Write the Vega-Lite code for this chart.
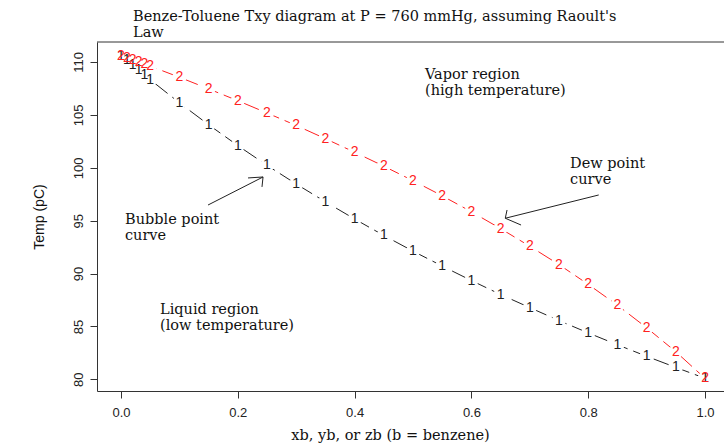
{
  "$schema": "https://vega.github.io/schema/vega-lite/v6.json",
  "width": 627,
  "height": 349,
  "autosize": {"type": "none"},
  "padding": {"left": 97, "top": 42, "right": 0, "bottom": 54},
  "background": "white",
  "config": {
    "view": {"stroke": null},
    "axis": {"grid": false, "tickSize": 7, "tickColor": "#333333", "domainColor": "#333333", "labelColor": "#222222", "titleColor": "#111111", "labelFont": "Liberation Sans", "labelFontSize": 13, "titleFontWeight": "normal"}
  },
  "title": {
    "text": ["Benze-Toluene Txy diagram at P = 760 mmHg, assuming Raoult's", "Law"],
    "anchor": "start",
    "frame": "group",
    "dx": 36,
    "offset": 1,
    "font": "DejaVu Serif",
    "fontSize": 14.5,
    "fontWeight": "normal",
    "color": "#111111",
    "lineHeight": 16
  },
  "datasets": {
    "curves": [
      {"x": 0, "T": 110.6, "c": "1"}, {"x": 0.01, "T": 110.15, "c": "1"}, {"x": 0.02, "T": 109.69, "c": "1"}, {"x": 0.03, "T": 109.24, "c": "1"}, {"x": 0.04, "T": 108.78, "c": "1"}, {"x": 0.05, "T": 108.33, "c": "1"},
      {"x": 0.1, "T": 106.14, "c": "1"}, {"x": 0.15, "T": 104.07, "c": "1"}, {"x": 0.2, "T": 102.1, "c": "1"}, {"x": 0.25, "T": 100.23, "c": "1"}, {"x": 0.3, "T": 98.47, "c": "1"}, {"x": 0.35, "T": 96.78, "c": "1"}, {"x": 0.4, "T": 95.16, "c": "1"}, {"x": 0.45, "T": 93.6, "c": "1"}, {"x": 0.5, "T": 92.12, "c": "1"}, {"x": 0.55, "T": 90.71, "c": "1"}, {"x": 0.6, "T": 89.34, "c": "1"}, {"x": 0.65, "T": 88.02, "c": "1"}, {"x": 0.7, "T": 86.78, "c": "1"}, {"x": 0.75, "T": 85.56, "c": "1"}, {"x": 0.8, "T": 84.39, "c": "1"}, {"x": 0.85, "T": 83.27, "c": "1"}, {"x": 0.9, "T": 82.18, "c": "1"}, {"x": 0.95, "T": 81.13, "c": "1"}, {"x": 1.0, "T": 80.1, "c": "1"},
      {"x": 0, "T": 110.6, "c": "2"}, {"x": 0.01, "T": 110.41, "c": "2"}, {"x": 0.02, "T": 110.21, "c": "2"}, {"x": 0.03, "T": 110.01, "c": "2"}, {"x": 0.04, "T": 109.81, "c": "2"}, {"x": 0.05, "T": 109.61, "c": "2"},
      {"x": 0.1, "T": 108.56, "c": "2"}, {"x": 0.15, "T": 107.46, "c": "2"}, {"x": 0.2, "T": 106.34, "c": "2"}, {"x": 0.25, "T": 105.18, "c": "2"}, {"x": 0.3, "T": 104.0, "c": "2"}, {"x": 0.35, "T": 102.75, "c": "2"}, {"x": 0.4, "T": 101.47, "c": "2"}, {"x": 0.45, "T": 100.15, "c": "2"}, {"x": 0.5, "T": 98.78, "c": "2"}, {"x": 0.55, "T": 97.35, "c": "2"}, {"x": 0.6, "T": 95.84, "c": "2"}, {"x": 0.65, "T": 94.25, "c": "2"}, {"x": 0.7, "T": 92.58, "c": "2"}, {"x": 0.75, "T": 90.85, "c": "2"}, {"x": 0.8, "T": 88.98, "c": "2"}, {"x": 0.85, "T": 87.01, "c": "2"}, {"x": 0.9, "T": 84.88, "c": "2"}, {"x": 0.95, "T": 82.61, "c": "2"}, {"x": 1.0, "T": 80.1, "c": "2"}
    ],
    "notes": [
      {"x": 0.5205, "T": 108.77, "label": "Vapor region"},
      {"x": 0.5205, "T": 107.3, "label": "(high temperature)"},
      {"x": 0.769, "T": 100.36, "label": "Dew point"},
      {"x": 0.769, "T": 98.85, "label": "curve"},
      {"x": 0.0068, "T": 95.07, "label": "Bubble point"},
      {"x": 0.0068, "T": 93.55, "label": "curve"},
      {"x": 0.0668, "T": 86.56, "label": "Liquid region"},
      {"x": 0.0668, "T": 85.05, "label": "(low temperature)"}
    ],
    "arrows": [
      {"x": 0.149, "T": 96.48, "x2": 0.2432, "T2": 99.13},
      {"x": 0.2432, "T": 99.13, "x2": 0.2175, "T2": 99.04},
      {"x": 0.2432, "T": 99.13, "x2": 0.2414, "T2": 98.19},
      {"x": 0.818, "T": 97.43, "x2": 0.658, "T2": 95.23},
      {"x": 0.658, "T": 95.23, "x2": 0.661, "T2": 96.01},
      {"x": 0.658, "T": 95.23, "x2": 0.685, "T2": 94.59}
    ],
    "frame": [{"T": 111.89}]
  },
  "layer": [
    {
      "data": {"name": "curves"},
      "mark": {"type": "line", "strokeDash": [16, 6], "strokeWidth": 1},
      "encoding": {
        "x": {"field": "x", "type": "quantitative", "scale": {"domain": [-0.0411, 1.0325], "nice": false, "zero": false},
              "axis": {"values": [0, 0.2, 0.4, 0.6, 0.8, 1.0], "format": ".1f", "labelPadding": 8, "title": "xb, yb, or zb (b = benzene)", "titleFont": "DejaVu Serif", "titleFontSize": 14.5, "titlePadding": 9, "titleX": 293}},
        "y": {"field": "T", "type": "quantitative", "scale": {"domain": [78.9, 111.89], "nice": false, "zero": false},
              "axis": {"values": [80, 85, 90, 95, 100, 105, 110], "labelAngle": 270, "labelPadding": 5, "title": "Temp (pC)", "titleFont": "Liberation Sans", "titleFontSize": 14, "titlePadding": 26}},
        "color": {"field": "c", "type": "nominal", "scale": {"domain": ["1", "2"], "range": ["#222222", "#ff2020"]}, "legend": null},
        "detail": {"field": "c"}
      }
    },
    {
      "data": {"name": "curves"},
      "mark": {"type": "point", "filled": true, "color": "white", "opacity": 1, "size": 200, "shape": "circle"},
      "encoding": {
        "x": {"field": "x", "type": "quantitative"},
        "y": {"field": "T", "type": "quantitative"}
      }
    },
    {
      "data": {"name": "curves"},
      "mark": {"type": "text", "font": "Liberation Sans", "fontSize": 14, "align": "center", "baseline": "middle"},
      "encoding": {
        "x": {"field": "x", "type": "quantitative"},
        "y": {"field": "T", "type": "quantitative"},
        "text": {"field": "c"},
        "color": {"field": "c", "type": "nominal", "legend": null}
      }
    },
    {
      "data": {"name": "notes"},
      "mark": {"type": "text", "font": "DejaVu Serif", "fontSize": 14.5, "align": "left", "baseline": "middle", "color": "#111111"},
      "encoding": {
        "x": {"field": "x", "type": "quantitative"},
        "y": {"field": "T", "type": "quantitative"},
        "text": {"field": "label"}
      }
    },
    {
      "data": {"name": "arrows"},
      "mark": {"type": "rule", "color": "#222222", "strokeWidth": 1},
      "encoding": {
        "x": {"field": "x", "type": "quantitative"},
        "y": {"field": "T", "type": "quantitative"},
        "x2": {"field": "x2"},
        "y2": {"field": "T2"}
      }
    },
    {
      "data": {"name": "frame"},
      "mark": {"type": "rule", "color": "#333333", "strokeWidth": 1},
      "encoding": {
        "y": {"field": "T", "type": "quantitative"}
      }
    }
  ]
}
